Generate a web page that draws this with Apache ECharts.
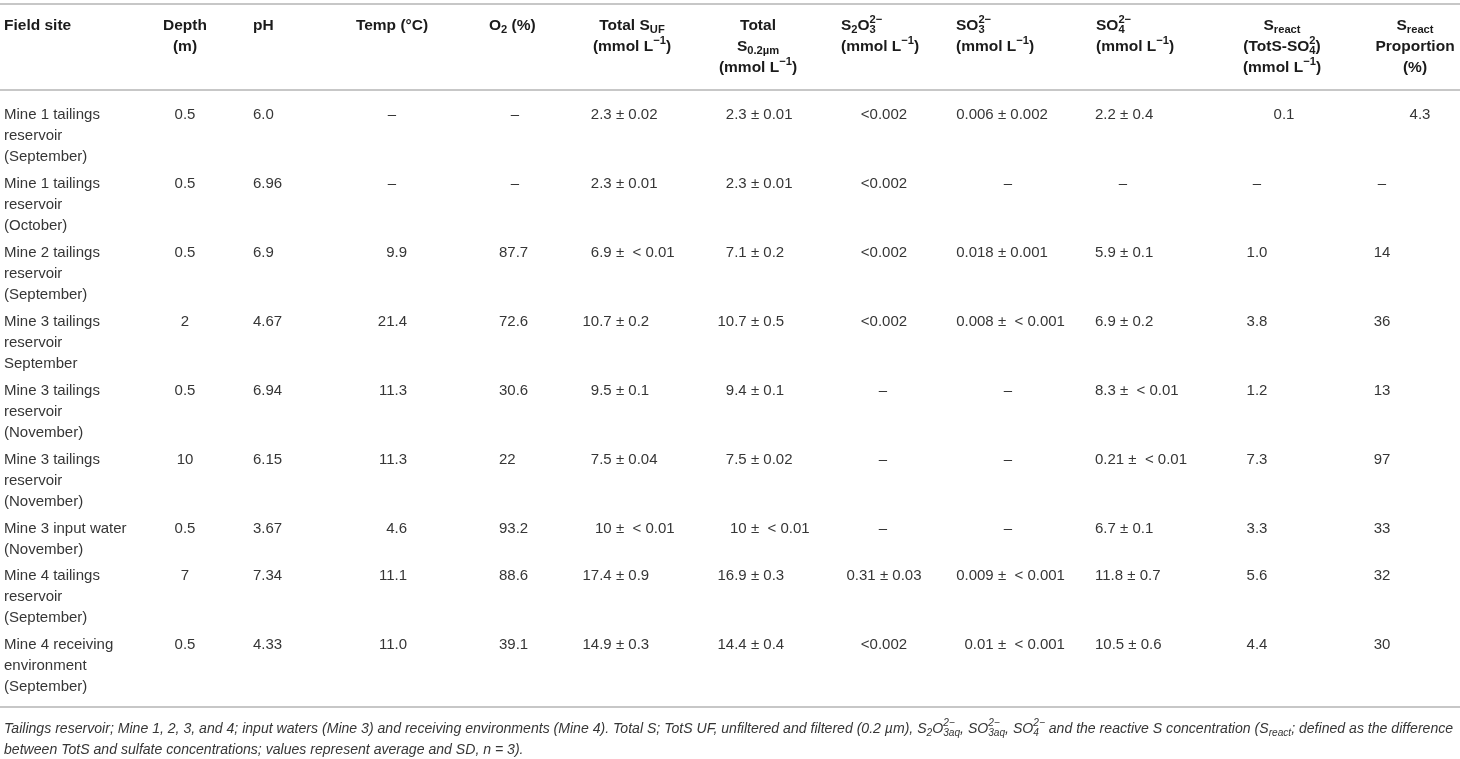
<!DOCTYPE html>
<html>
<head>
<meta charset="utf-8">
<script src="https://cdn.jsdelivr.net/npm/echarts@6/dist/echarts.min.js"></script>
<style>
  html, body { margin: 0; padding: 0; background: #fff; }
  #main { width: 1460px; height: 759px; }
</style>
</head>
<body>
<div id="main"></div>
<script>
// ---- table data (markup: _{sub}, ^{sup}; ^{..}_{..} stacks) ----
const headers = [
  ['Field site'],
  ['Depth', '(m)'],
  ['pH'],
  ['Temp (°C)'],
  ['O_{2} (%)'],
  ['Total S_{UF}', '(mmol L^{−1})'],
  ['Total', 'S_{0.2µm}', '(mmol L^{−1})'],
  ['S_{2}O^{2−}_{3}', '(mmol L^{−1})'],
  ['SO^{2−}_{3}', '(mmol L^{−1})'],
  ['SO^{2−}_{4}', '(mmol L^{−1})'],
  ['S_{react}', '(TotS-SO^{2}_{4})', '(mmol L^{−1})'],
  ['S_{react}', 'Proportion', '(%)']
];

const sites = [
  'Mine 1 tailings\nreservoir\n(September)',
  'Mine 1 tailings\nreservoir\n(October)',
  'Mine 2 tailings\nreservoir\n(September)',
  'Mine 3 tailings\nreservoir\nSeptember',
  'Mine 3 tailings\nreservoir\n(November)',
  'Mine 3 tailings\nreservoir\n(November)',
  'Mine 3 input water\n(November)',
  'Mine 4 tailings\nreservoir\n(September)',
  'Mine 4 receiving\nenvironment\n(September)'
];
const depth = ['0.5', '0.5', '0.5', '2', '0.5', '10', '0.5', '7', '0.5'];
const pH = ['6.0', '6.96', '6.9', '4.67', '6.94', '6.15', '3.67', '7.34', '4.33'];
const temp = ['–', '–', '9.9', '21.4', '11.3', '11.3', '4.6', '11.1', '11.0'];
const oxygen = ['–', '–', '87.7', '72.6', '30.6', '22', '93.2', '88.6', '39.1'];
const totalSUF = ['2.3 ± 0.02', '2.3 ± 0.01', '6.9 ±  < 0.01', '10.7 ± 0.2', '9.5 ± 0.1',
  '7.5 ± 0.04', '10 ±  < 0.01', '17.4 ± 0.9', '14.9 ± 0.3'];
const totalS02 = ['2.3 ± 0.01', '2.3 ± 0.01', '7.1 ± 0.2', '10.7 ± 0.5', '9.4 ± 0.1',
  '7.5 ± 0.02', '10 ±  < 0.01', '16.9 ± 0.3', '14.4 ± 0.4'];
const thiosulfate = ['<0.002', '<0.002', '<0.002', '<0.002', '–', '–', '–', '0.31 ± 0.03', '<0.002'];
const sulfite = ['0.006 ± 0.002', '–', '0.018 ± 0.001', '0.008 ±  < 0.001', '–', '–', '–',
  '0.009 ±  < 0.001', '0.01 ±  < 0.001'];
const sulfate = ['2.2 ± 0.4', '–', '5.9 ± 0.1', '6.9 ± 0.2', '8.3 ±  < 0.01', '0.21 ±  < 0.01',
  '6.7 ± 0.1', '11.8 ± 0.7', '10.5 ± 0.6'];
const sReact = ['0.1', '–', '1.0', '3.8', '1.2', '7.3', '3.3', '5.6', '4.4'];
const sReactPct = ['4.3', '–', '14', '36', '13', '97', '33', '32', '30'];

const footnoteLines = [
  'Tailings reservoir; Mine 1, 2, 3, and 4; input waters (Mine 3) and receiving environments (Mine 4). Total S; TotS UF, unfiltered and filtered (0.2 µm), S_{2}O^{2−}_{3aq}, SO^{2−}_{3aq}, SO^{2−}_{4} and the reactive S concentration (S_{react}; defined as the difference',
  'between TotS and sulfate concentrations; values represent average and SD, n = 3).'
];

const columns = [sites, depth, pH, temp, oxygen, totalSUF, totalS02, thiosulfate, sulfite, sulfate, sReact, sReactPct];

// ---- layout (pixels in the 1460x759 frame) ----
const W = 1460, H = 759;
const FONT = '"Liberation Sans", Arial, Helvetica, sans-serif';
const SIZE = 15;
const HEAD_SIZE = 15.5;
const LINE_H = 21;
const HEADER_Y = 25.5;
const BODY_Y = 114.5;
const colLayout = [
  { align: 'left', x: 4, hAlign: 'left', hx: 4 },
  { align: 'center', x: 185, hAlign: 'center', hx: 185 },
  { align: 'left', x: 253, hAlign: 'left', hx: 253 },
  { align: 'right', x: 407, dash: 392, hAlign: 'center', hx: 392 },
  { align: 'left', x: 499, dash: 515, hAlign: 'left', hx: 489 },
  { align: 'pm', x: 620, hAlign: 'center', hx: 632 },
  { align: 'pm', x: 755, hAlign: 'center', hx: 758 },
  { align: 'center', x: 884, dash: 883, hAlign: 'left', hx: 841 },
  { align: 'pm', x: 1002, dash: 1008, hAlign: 'left', hx: 956 },
  { align: 'left', x: 1095, dash: 1123, hAlign: 'left', hx: 1096 },
  { align: 'center', x: 1257, nudge0: 27, hAlign: 'center', hx: 1282 },
  { align: 'center', x: 1382, nudge0: 38, hAlign: 'center', hx: 1415 }
];

// row first-line centres, from the number of lines in each row
const rowY = [];
(function () {
  let y = BODY_Y;
  sites.forEach(function (s) {
    rowY.push(y);
    y += s.split('\n').length * 22 + 3;
  });
})();

// ---- text measuring / runs ----
const mctx = document.createElement('canvas').getContext('2d');
function fontStr(size, bold, italic) {
  return (italic ? 'italic ' : '') + (bold ? 'bold ' : '') + size + 'px ' + FONT;
}
function measure(t, size, bold, italic) {
  mctx.font = fontStr(size, bold, italic);
  return mctx.measureText(t).width;
}
function layoutRuns(markup, size, bold, italic) {
  const toks = markup.match(/\^\{[^}]*\}|_\{[^}]*\}|[^^_]+/g) || [];
  const items = [];
  const ss = size * 0.72;
  let x = 0;
  for (let i = 0; i < toks.length; i++) {
    const t = toks[i];
    if (t[0] === '^' || t[0] === '_') {
      const txt = t.slice(2, -1);
      const isSup = t[0] === '^';
      const next = toks[i + 1];
      let w = measure(txt, ss, bold, italic);
      items.push({ t: txt, dx: x, dy: isSup ? -size * 0.38 : size * 0.3, size: ss });
      if (next && (next[0] === '^' || next[0] === '_') && next[0] !== t[0]) {
        const txt2 = next.slice(2, -1);
        items.push({ t: txt2, dx: x, dy: next[0] === '^' ? -size * 0.38 : size * 0.3, size: ss });
        w = Math.max(w, measure(txt2, ss, bold, italic));
        i++;
      }
      x += w;
    } else {
      items.push({ t: t, dx: x, dy: 0, size: size });
      x += measure(t, size, bold, italic);
    }
  }
  return { items: items, width: x };
}
function placeRuns(out, markup, align, ax, ay, api, opt) {
  const size = opt.size || SIZE;
  const lay = layoutRuns(markup, size, opt.bold, opt.italic);
  let x0 = ax;
  if (align === 'center') x0 = ax - lay.width / 2;
  else if (align === 'right') x0 = ax - lay.width;
  lay.items.forEach(function (it) {
    const p = api ? api.coord([x0 + it.dx, ay]) : [x0 + it.dx, ay];
    out.push({
      type: 'text',
      x: p[0],
      y: p[1] + it.dy,
      silent: true,
      style: {
        text: it.t,
        font: fontStr(it.size, opt.bold, opt.italic),
        fill: opt.color,
        textAlign: 'left', align: 'left',
        textVerticalAlign: 'middle', verticalAlign: 'middle'
      }
    });
  });
}

const HEAD_COLOR = '#1b1b1b';
const BODY_COLOR = '#363636';

function renderItem(params, api) {
  const c = api.value(0), r = api.value(1);
  const lay = colLayout[c];
  const children = [];
  if (r < 0) {
    headers[c].forEach(function (line, k) {
      placeRuns(children, line, lay.hAlign, lay.hx, HEADER_Y + k * LINE_H, api,
        { bold: true, size: HEAD_SIZE, color: HEAD_COLOR });
    });
    return { type: 'group', children: children };
  }
  const txt = columns[c][r];
  const y = rowY[r];
  const opt = { color: BODY_COLOR };
  if (txt === '–') {
    placeRuns(children, txt, 'center', lay.dash != null ? lay.dash : lay.x, y, api, opt);
  } else if (lay.align === 'pm' && txt.indexOf('±') >= 0) {
    const i = txt.indexOf('±');
    const left = txt.slice(0, i).trim();
    const right = txt.slice(i);
    const pmHalf = measure('±', SIZE) / 2;
    const sp = measure(' ', SIZE);
    placeRuns(children, left, 'right', lay.x - pmHalf - sp, y, api, opt);
    placeRuns(children, right, 'left', lay.x - pmHalf, y, api, opt);
  } else {
    const ax = lay.x + (r === 0 && lay.nudge0 ? lay.nudge0 : 0);
    const al = lay.align === 'pm' ? 'center' : lay.align;
    txt.split('\n').forEach(function (line, k) {
      placeRuns(children, line, al, ax, y + k * LINE_H, api, opt);
    });
  }
  return { type: 'group', children: children };
}

const cells = [];
for (let r = -1; r < sites.length; r++) {
  for (let c = 0; c < columns.length; c++) cells.push([c, r]);
}

// ---- rules and footnote ----
const RULE_COLOR = '#b5b5b5';
const rules = [4, 90, 707].map(function (y) {
  return {
    type: 'line', silent: true,
    shape: { x1: 0, y1: y, x2: W, y2: y },
    style: { stroke: RULE_COLOR, lineWidth: 1.6 }
  };
});
const noteChildren = [];
(function () {
  const target = 1451;
  const base = 13.5;
  const w = layoutRuns(footnoteLines[0], base, false, true).width;
  const size = Math.max(12, Math.min(15, base * target / w));
  footnoteLines.forEach(function (l, k) {
    placeRuns(noteChildren, l, 'left', 4, 729 + k * 21, null,
      { italic: true, size: size, color: BODY_COLOR });
  });
})();

const chart = echarts.init(document.getElementById('main'), null, { renderer: 'canvas' });
chart.setOption({
  animation: false,
  backgroundColor: '#ffffff',
  grid: { left: 0, right: 0, top: 0, bottom: 0 },
  xAxis: { type: 'value', min: 0, max: W, show: false },
  yAxis: { type: 'value', min: 0, max: H, inverse: true, show: false },
  graphic: { elements: rules.concat(noteChildren) },
  series: [{
    type: 'custom',
    renderItem: renderItem,
    data: cells,
    clip: false,
    silent: true
  }]
});
</script>
</body>
</html>
